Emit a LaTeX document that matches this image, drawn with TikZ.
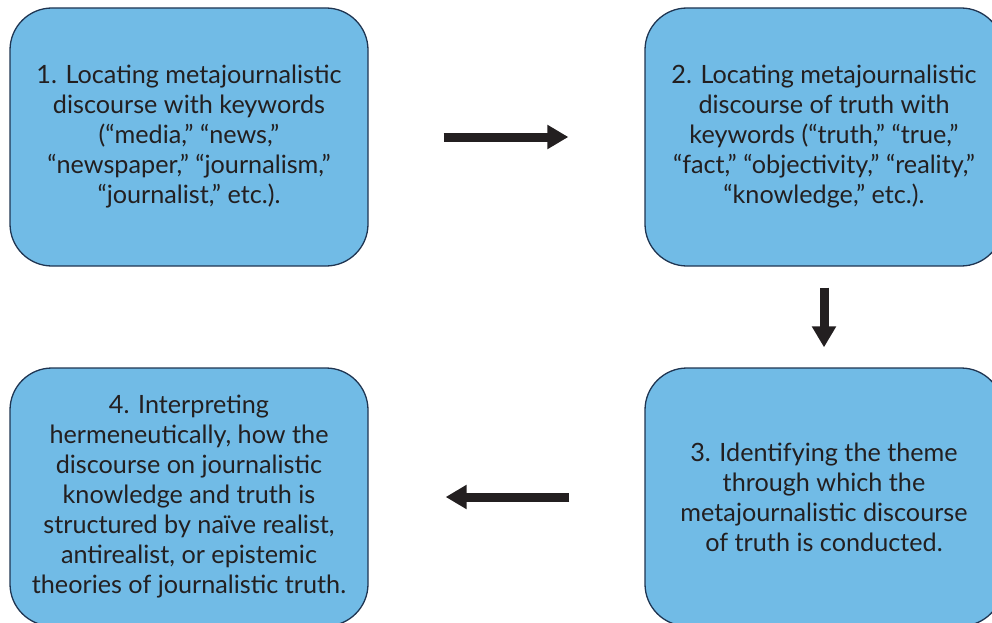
\documentclass[tikz,border=0pt]{standalone}
\usepackage{fontspec}
\setmainfont{Lato}
\usepackage{tikz}
\usetikzlibrary{arrows.meta}

\definecolor{stepfill}{HTML}{71BBE6}
\definecolor{stepline}{HTML}{1F3552}
\definecolor{ink}{HTML}{231F20}

\begin{document}
\begin{tikzpicture}[x=1pt,y=-1pt,
  box/.style={draw=stepline,fill=stepfill,line width=1.3pt,rounded corners=42pt,
    align=center,text=ink,font=\fontsize{25.2}{30}\selectfont,inner sep=0pt,
    minimum width=358pt,minimum height=258pt},
  arr/.style={-{Triangle[length=21pt,width=23pt]},line width=9pt,draw=ink}]
\clip (0,0) rectangle (992,623);
\node[box] (S1) at (189,137) {1. Locating metajournalistic\\ discourse with keywords\\ (“media,” “news,”\\ “newspaper,” “journalism,”\\ “journalist,” etc.).};
\node[box] (S2) at (824,137) {2. Locating metajournalistic\\ discourse of truth with\\ keywords (“truth,” “true,”\\ “fact,” “objectivity,” “reality,”\\ “knowledge,” etc.).};
\node[box] (S3) at (824,497) {3. Identifying the theme\\ through which the\\ metajournalistic discourse\\ of truth is conducted.};
\node[box] (S4) at (189,497) {4. Interpreting\\ hermeneutically, how the\\ discourse on journalistic\\ knowledge and truth is\\ structured by naïve realist,\\ antirealist, or epistemic\\ theories of journalistic truth.};
\draw[arr,shorten <=75pt,shorten >=76pt] (S1) -- (S2);
\draw[arr,shorten <=21pt,shorten >=20pt] (S2) -- (S3);
\draw[arr,shorten <=75pt,shorten >=77pt] (S3) -- (S4);
\end{tikzpicture}
\end{document}
